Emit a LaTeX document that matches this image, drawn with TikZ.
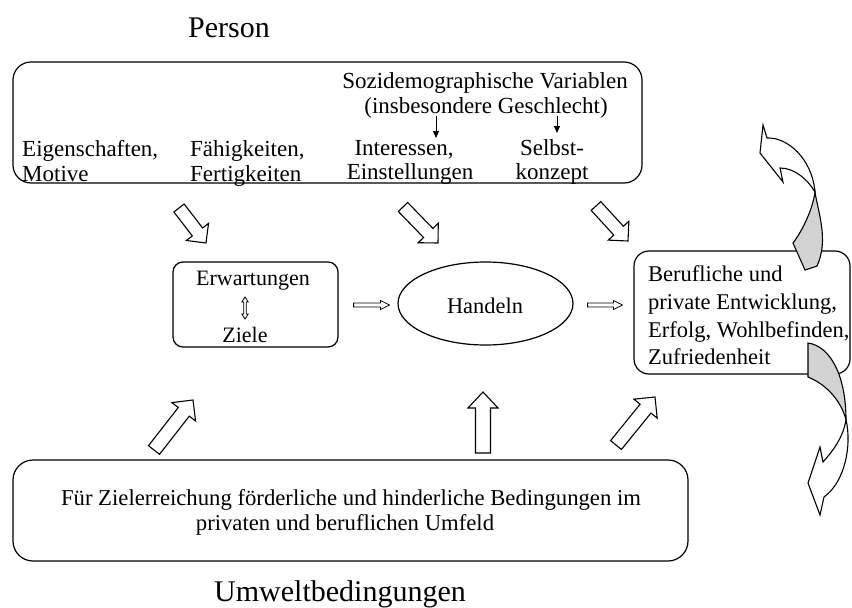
\documentclass[tikz,border=0pt]{standalone}
\usepackage{fontspec}
\setmainfont{Liberation Serif}
\usetikzlibrary{calc,shapes.geometric,arrows.meta}
\tikzset{
  roundbox/.style={draw, line width=1.2pt, rounded corners=#1, inner sep=0pt},
  lbl/.style={font=\fontsize{23}{25}\selectfont, inner sep=0pt, anchor=base},
  lblw/.style={lbl, anchor=base west},
  rlbl/.style={font=\fontsize{22.5}{25}\selectfont, inner sep=0pt, anchor=base west},
  blbl/.style={font=\fontsize{22.7}{25}\selectfont, inner sep=0pt, anchor=base},
  ttl/.style={font=\fontsize{30}{32}\selectfont, inner sep=0pt, anchor=base},
  fatline/.style={draw, fill=white, line width=1.1pt, line join=miter},
  slimarrow/.style={draw, fill=white, line width=0.8pt, line join=miter},
  tinyarrow/.style={-{Triangle[length=7pt,width=6pt]}, line width=1pt},
  grayback/.style={draw, fill=gray!35, line width=1.1pt},
}
\newcommand\fatarr[7]{%
  \path #3 coordinate (#1-t) #4 coordinate (#1-h);
  \path ($(#1-h)!#7!(#1-t)$) coordinate (#1-n);
  \draw[#2] ($(#1-t)!#5!90:(#1-h)$) -- ($(#1-n)!#5!90:(#1-h)$) -- ($(#1-n)!#6!90:(#1-h)$) -- (#1-h)
    -- ($(#1-n)!#6!-90:(#1-h)$) -- ($(#1-n)!#5!-90:(#1-h)$) -- ($(#1-t)!#5!-90:(#1-h)$) -- cycle;
}
\newcommand\dblarr[6]{%
  \path #2 coordinate (#1-a) #3 coordinate (#1-b);
  \path ($(#1-a)!#6!(#1-b)$) coordinate (#1-m) ($(#1-b)!#6!(#1-a)$) coordinate (#1-n);
  \draw[slimarrow] (#1-a) -- ($(#1-m)!#5!90:(#1-b)$) -- ($(#1-m)!#4!90:(#1-b)$)
    -- ($(#1-n)!#4!-90:(#1-a)$) -- ($(#1-n)!#5!-90:(#1-a)$) -- (#1-b)
    -- ($(#1-n)!#5!90:(#1-a)$) -- ($(#1-n)!#4!90:(#1-a)$)
    -- ($(#1-m)!#4!-90:(#1-b)$) -- ($(#1-m)!#5!-90:(#1-b)$) -- cycle;
}
\begin{document}
\begin{tikzpicture}[x=1pt,y=-1pt]
\useasboundingbox[fill=white] (0,0) rectangle (852,608);

% ---- Person
\node[ttl] (ptitle) at (229,37) {Person};
\node[roundbox=18pt, minimum width=629pt, minimum height=121pt] (person) at (327.5,122.5) {};
\node[lbl] (soz) at (485,88) {Sozidemographische Variablen};
\node[lbl] (ins) at (486,113) {(insbesondere Geschlecht)};
\node[lblw] (eig) at (22,156) {Eigenschaften,};
\node[lblw] (mot) at (22,181) {Motive};
\node[lblw] (fae) at (190,156) {Fähigkeiten,};
\node[lblw] (fer) at (190,181) {Fertigkeiten};
\node[lbl] (int) at (404,155) {Interessen,};
\node[lbl] (ein) at (410,179) {Einstellungen};
\node[lbl] (sel) at (552,155) {Selbst-};
\node[lbl] (kon) at (552,179) {konzept};
\coordinate (g1a) at (436,116);
\coordinate (g1b) at (436,138);
\coordinate (g2a) at (557,116);
\coordinate (g2b) at (557,133);
\draw[tinyarrow] (g1a) -- (g1b);
\draw[tinyarrow] (g2a) -- (g2b);

% ---- middle row
\node[roundbox=10pt, minimum width=165pt, minimum height=85pt] (erw) at (255.5,304.5) {};
\node[lbl, font=\fontsize{22}{25}\selectfont] (erwt) at (253,285) {Erwartungen};
\node[lbl, font=\fontsize{22}{25}\selectfont] (ziele) at (245,342) {Ziele};
\dblarr{dz}{(245,297)}{(245,319)}{1.3pt}{3.2pt}{5pt}

\node[draw, ellipse, line width=1.2pt, minimum width=175pt, minimum height=83pt, inner sep=0pt] (hand) at (485.5,303.5) {};
\node[lbl, font=\fontsize{22.4}{25}\selectfont] (handt) at (485,313) {Handeln};

\node[roundbox=15pt, minimum width=216pt, minimum height=123pt] (res) at (742,312.5) {};
\node[rlbl] (r1) at (648,281) {Berufliche und};
\node[rlbl] (r2) at (648,309) {private Entwicklung,};
\node[rlbl] (r3) at (648,337) {Erfolg, Wohlbefinden,};
\node[rlbl] (r4) at (648,364) {Zufriedenheit};

\fatarr{s1}{slimarrow}{($(erw.east)+(15,0.5)$)}{($(hand.west)+(-8,1.5)$)}{2pt}{4.5pt}{9pt}
\fatarr{s2}{slimarrow}{($(hand.east)+(14,1.5)$)}{($(res.west)+(-11,-7.5)$)}{2pt}{4.5pt}{9pt}

% ---- fat arrows from Person
\fatarr{f1}{fatline}{(179,208)}{(206,243)}{6.5pt}{14pt}{14pt}
\fatarr{f2}{fatline}{(403,207)}{(438,243)}{6.5pt}{14pt}{14pt}
\fatarr{f3}{fatline}{(596,206)}{(628,241)}{6.5pt}{14pt}{14pt}

% ---- Umwelt
\node[roundbox=20pt, minimum width=675pt, minimum height=101pt] (env) at (350.5,510.5) {};
\node[blbl] (e1) at (351,505) {Für Zielerreichung förderliche und hinderliche Bedingungen im};
\node[blbl] (e2) at (345,530) {privaten und beruflichen Umfeld};
\node[ttl] (utitle) at (340,601) {Umweltbedingungen};

\fatarr{f4}{fatline}{(154,450)}{(193,400)}{7pt}{15pt}{15pt}
\fatarr{f5}{fatline}{(483,453)}{(483,392)}{7.5pt}{15pt}{16pt}
\fatarr{f6}{fatline}{(616,445)}{(655,397)}{7pt}{15pt}{15pt}

% ---- curved arrows (3D ribbons)
\draw[fatline] (763,125) -- (767,138) .. controls (787,137) and (812,158) .. (815,192)
  .. controls (808,180) and (795,168) .. (780,168) -- (783,182) -- (760,153) -- cycle;
\draw[grayback] (815,192) .. controls (813,208) and (803,230) .. (793,243) -- (805,270) -- (817,266)
  .. controls (829,240) and (818,212) .. (815,192) -- cycle;

\draw[grayback] (808,343) .. controls (830,346) and (846,375) .. (846,420)
  .. controls (842,403) and (828,385) .. (808,377) -- cycle;
\draw[fatline] (846,420) .. controls (852,445) and (845,482) .. (824,497) -- (820,515) -- (808,483)
  -- (820,447) -- (823,462) .. controls (832,452) and (843,438) .. (846,420) -- cycle;
\end{tikzpicture}
\end{document}
